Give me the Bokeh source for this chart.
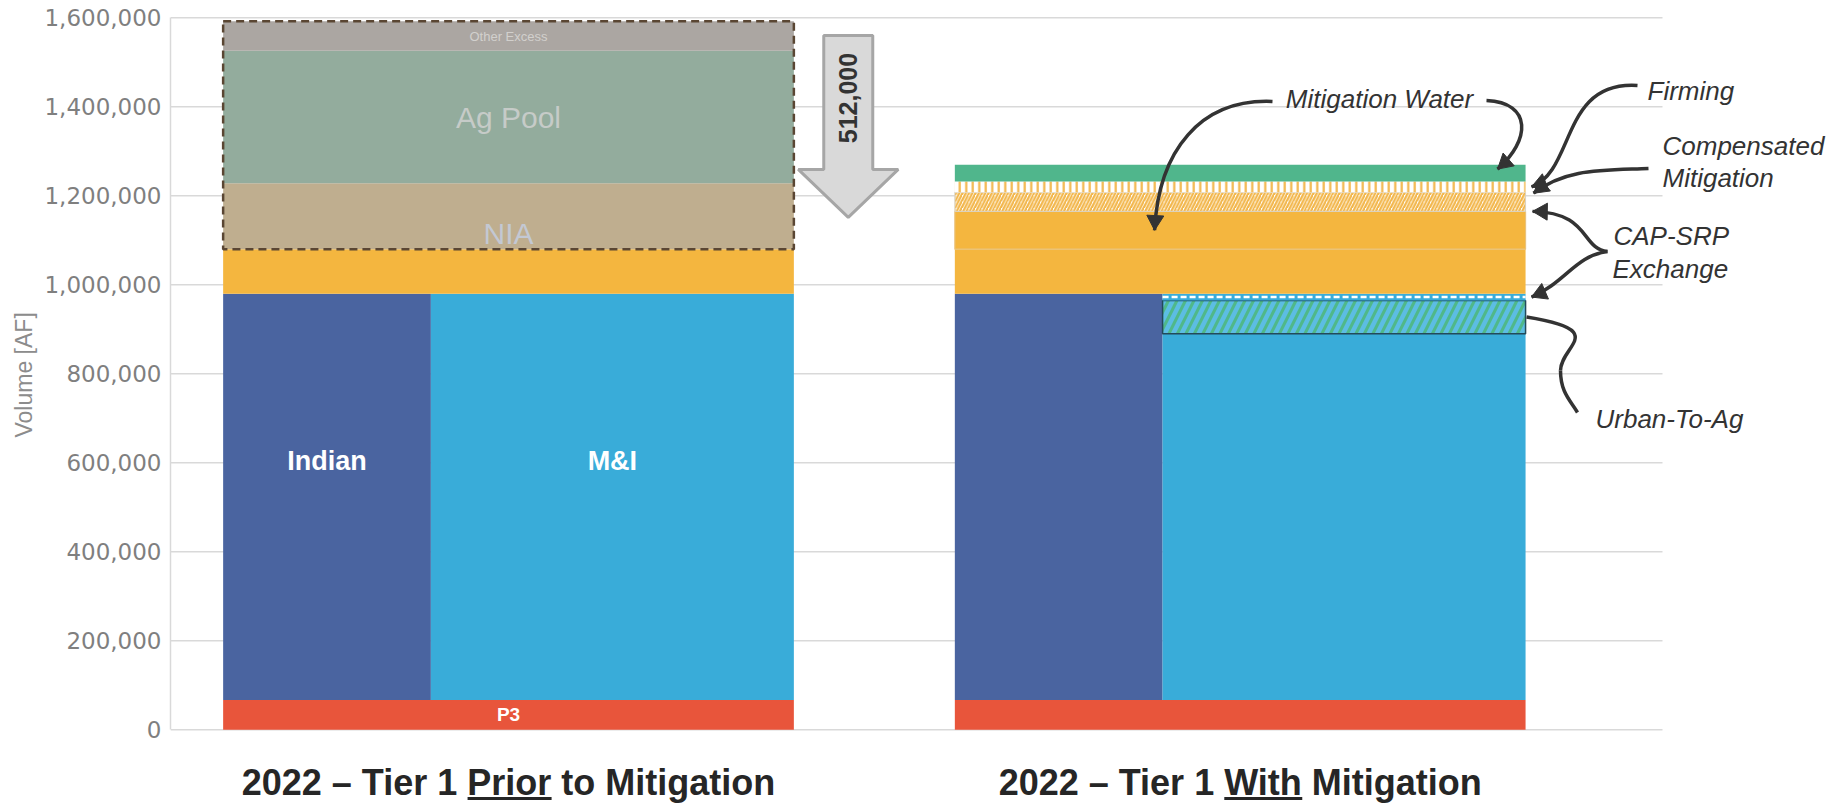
import math
from bokeh.plotting import figure
from bokeh.models import Range1d, FixedTicker, NumeralTickFormatter, ColumnDataSource, Title
from bokeh.core.properties import value
from bokeh.embed import file_html
from bokeh.resources import INLINE

# ---------------- data (acre-feet) ----------------
categories = ["2022 – Tier 1 Prior to Mitigation", "2022 – Tier 1 With Mitigation"]
underlined_words = ["Prior", "With"]

p3 = [67000, 67000]
indian = [913000, 913000]
m_and_i = [913000, 823000]
urban_to_ag = [0, 75000]
cap_srp_exchange_mi = [0, 15000]

base_excess = [100000, 100000]
nia = [148000, 0]
ag_pool = [298000, 0]
other_excess = [66000, 0]
mitigation_water = [0, 85000]
compensated_mitigation = [0, 43000]
firming = [0, 24000]
mitigation_top = [0, 38000]

reduction_label = 512000
y_ticks = [0, 200000, 400000, 600000, 800000, 1000000, 1200000, 1400000, 1600000]

# ---------------- layout helpers ----------------
W, H = 1846, 807
FRAME_LEFT = 170
PX_PER_UNIT = 731.7      # pixels per category slot
PX_PER_AF = 0.000445     # pixels per acre-foot
CENTER0_PX = 508.0       # canvas x of first bar centre
ZERO_PX = 729.3          # canvas y of the zero line
BAR_W = 0.78
SPLIT = 0.364            # share of the bar taken by the Indian column
GRID_END_PX = 1662


def ux(px):
    return (px - CENTER0_PX) / PX_PER_UNIT


def uy(py):
    return (ZERO_PX - py) / PX_PER_AF


def sx(u):
    return CENTER0_PX + u * PX_PER_UNIT


def sy(v):
    return ZERO_PX - v * PX_PER_AF


p = figure(
    width=W, height=H,
    x_range=Range1d(ux(FRAME_LEFT), ux(W)),
    y_range=Range1d(uy(H), uy(0)),
    output_backend="svg", toolbar_location=None,
    x_axis_location=None,
    min_border_left=FRAME_LEFT, min_border_right=0,
    min_border_top=0, min_border_bottom=0,
)
p.outline_line_color = None
p.grid.visible = False
p.background_fill_color = "white"

ax = p.yaxis[0]
ax.ticker = FixedTicker(ticks=y_ticks)
ax.formatter = NumeralTickFormatter(format="0,0")
ax.bounds = (y_ticks[0], y_ticks[-1])
ax.axis_line_color = "#d9d9d9"
ax.axis_line_width = 1.5
ax.major_tick_line_color = None
ax.minor_tick_line_color = None
ax.major_label_text_font = "DejaVu Sans"
ax.major_label_text_font_size = "23px"
ax.major_label_text_color = "#7f7f7f"
ax.major_label_standoff = 3

# axis title at the left edge, lifted to sit beside the tick span
p.add_layout(Title(text="Volume [AF]", align="left", offset=370, standoff=10,
                   text_font="Liberation Sans", text_font_size="23px",
                   text_font_style="normal", text_color="#8c8c8c"), "left")

# horizontal grid lines
p.segment(x0=[ux(FRAME_LEFT)] * len(y_ticks), x1=[ux(GRID_END_PX)] * len(y_ticks),
          y0=y_ticks, y1=y_ticks, line_color="#d9d9d9", line_width=1.5)

n = len(categories)
bar_l = [i - BAR_W / 2 for i in range(n)]
bar_r = [i + BAR_W / 2 for i in range(n)]
bar_m = [bar_l[i] + SPLIT * BAR_W for i in range(n)]


def quad(lefts, rights, bottoms, tops, **kw):
    keep = [k for k in range(len(lefts)) if tops[k] > bottoms[k]]
    src = ColumnDataSource(dict(
        left=[lefts[k] for k in keep], right=[rights[k] for k in keep],
        bottom=[bottoms[k] for k in keep], top=[tops[k] for k in keep]))
    p.quad(left="left", right="right", bottom="bottom", top="top", source=src, **kw)


def add(a, b):
    return [x + y for x, y in zip(a, b)]


zero = [0] * n

# P3 across the whole bar
quad(bar_l, bar_r, zero, p3, fill_color="#e8553b", line_color=None)
# Indian column
ind_top = add(p3, indian)
quad(bar_l, bar_m, p3, ind_top, fill_color="#4a64a0", line_color=None)
# M&I column and the pieces carved out of it
mi_top = add(p3, m_and_i)
quad(bar_m, bar_r, p3, mi_top, fill_color="#39acd9", line_color=None)
urb_top = add(mi_top, urban_to_ag)
quad(bar_m, bar_r, mi_top, urb_top, fill_color="#4fb88a", hatch_pattern="/",
     hatch_color="#5cbde3", hatch_scale=17, hatch_weight=4.5,
     line_color="#234a5a", line_width=1.5)
cap_top = add(urb_top, cap_srp_exchange_mi)
quad(bar_m, bar_r, urb_top, cap_top, fill_color="#39acd9", line_color=None)
for i in range(n):
    if cap_srp_exchange_mi[i] > 0:
        mid = (urb_top[i] + cap_top[i]) / 2
        p.segment(x0=[bar_m[i]], x1=[bar_r[i]], y0=[mid], y1=[mid],
                  line_color="white", line_width=2.5, line_dash="6 3")

# full-width layers above the columns
layers = [
    (base_excess, dict(fill_color="#f4b63f", line_color=None)),
    (nia, dict(fill_color="#bfae8f", line_color=None)),
    (ag_pool, dict(fill_color="#93ac9d", line_color=None)),
    (other_excess, dict(fill_color="#aba6a2", line_color=None)),
    (mitigation_water, dict(fill_color="#f4b63f", line_color="#e9c27c", line_width=1.2)),
    (compensated_mitigation, dict(fill_color="white", hatch_pattern="/", hatch_color="#f2b64a",
                                  hatch_scale=6.5, hatch_weight=2.2, line_color="#d8d2c4", line_width=1)),
    (firming, dict(fill_color="white", hatch_pattern="|", hatch_color="#f2b64a",
                   hatch_scale=6.5, hatch_weight=2.2, line_color=None)),
    (mitigation_top, dict(fill_color="#50b68c", line_color=None)),
]
bottoms = ind_top[:]
band = {}
for vals, style in layers:
    tops = add(bottoms, vals)
    quad(bar_l, bar_r, bottoms, tops, **style)
    band[id(vals)] = (bottoms[:], tops[:])
    bottoms = tops

# dashed outline around the volume that is cut
cut_bottom = [band[id(nia)][0][0]]
cut_top = [band[id(other_excess)][1][0]]
p.quad(left=[bar_l[0]], right=[bar_r[0]], bottom=cut_bottom, top=cut_top,
       fill_alpha=0, line_color="#5a4633", line_width=2.5, line_dash="8 5")

FONT = value("Liberation Sans")


def text(x, y, s, size, color, style="normal", align="center", baseline="middle", angle=0.0):
    p.text(x=[x], y=[y], text=[s], text_font=FONT, text_font_size=f"{size}px",
           text_font_style=style, text_color=color, text_align=align,
           text_baseline=baseline, angle=angle)


# labels inside the first bar
nb, nt = band[id(nia)][0][0], band[id(nia)][1][0]
ab, at = band[id(ag_pool)][0][0], band[id(ag_pool)][1][0]
ob, ot = band[id(other_excess)][0][0], band[id(other_excess)][1][0]
text(0, (ob + ot) / 2, "Other Excess", 13, "#d2d0cd")
text(0, (ab + at) / 2, "Ag Pool", 30, "#c6cbc8")
text(0, nb + 35000, "NIA", 30, "#c3c8d3")
text((bar_l[0] + bar_m[0]) / 2, 605000, "Indian", 27, "white", style="bold")
text((bar_m[0] + bar_r[0]) / 2, 605000, "M&I", 27, "white", style="bold")
text(0, p3[0] / 2, "P3", 19, "white", style="bold")

# block arrow showing the reduction
box_top = cut_top[0]
shaft_x = bar_r[0] + 54.4 / PX_PER_UNIT
shaft_hw = 24.5 / PX_PER_UNIT
head_hw = 50 / PX_PER_UNIT
a_top = box_top - 0.0625 * reduction_label
a_neck = box_top - 0.65 * reduction_label
a_tip = box_top - 0.86 * reduction_label
p.patch(x=[shaft_x - shaft_hw, shaft_x + shaft_hw, shaft_x + shaft_hw, shaft_x + head_hw,
           shaft_x, shaft_x - head_hw, shaft_x - shaft_hw],
        y=[a_top, a_top, a_neck, a_neck, a_tip, a_neck, a_neck],
        fill_color="#d9d9d9", line_color="#a6a6a6", line_width=3)
text(shaft_x, (a_top + a_neck) / 2 + 10000, f"{reduction_label:,}", 25, "#333333",
     style="bold", angle=math.pi / 2)

# leader lines for the second bar
INK = "#333333"
edge_px = sx(bar_r[1])


def leader(segs, head=True):
    for (p0, c1, c2, p1) in segs:
        p.bezier(x0=[ux(p0[0])], y0=[uy(p0[1])], x1=[ux(p1[0])], y1=[uy(p1[1])],
                 cx0=[ux(c1[0])], cy0=[uy(c1[1])], cx1=[ux(c2[0])], cy1=[uy(c2[1])],
                 line_color=INK, line_width=3.5)
    if head:
        _, _, c2, p1 = segs[-1]
        ang = math.atan2(-(p1[1] - c2[1]), p1[0] - c2[0])
        size = 17
        back = 0.577 * size
        cxp = p1[0] - back * math.cos(ang)
        cyp = p1[1] + back * math.sin(ang)
        p.scatter(x=[ux(cxp)], y=[uy(cyp)], marker="triangle", size=size,
                  angle=ang - math.pi / 2, fill_color=INK, line_color=INK)


def mid_px(key):
    b, t = band[id(key)][0][1], band[id(key)][1][1]
    return sy((b + t) / 2)


tip_x = edge_px + 6
mw_tip = (sx(bar_l[1] + 0.35 * BAR_W), mid_px(mitigation_water))
leader([((1272, 101), (1200, 98), (1158, 150), mw_tip)])
top_tip = (edge_px - 28, mid_px(mitigation_top) - 4)
leader([((1486, 100), (1532, 102), (1530, 140), top_tip)])
leader([((1637, 85), (1560, 80), (1575, 170), (tip_x, mid_px(firming)))])
leader([((1648, 168), (1600, 170), (1565, 168), (tip_x + 2, sy(band[id(compensated_mitigation)][1][1]) + 1))])
leader([((1607, 251), (1580, 248), (1590, 212), (tip_x + 1, sy(band[id(mitigation_water)][1][1])))])
cap_mid = sy((urb_top[1] + cap_top[1]) / 2)
leader([((1607, 251), (1575, 255), (1565, 282), (tip_x, cap_mid))])
urb_mid = sy((mi_top[1] + urb_top[1]) / 2)
leader([((edge_px + 1, urb_mid), (1610, 330), (1560, 345), (1560, 370)),
        ((1560, 370), (1560, 392), (1570, 400), (1577, 412))], head=False)

ANN = "#333333"
text(ux(1379), uy(98), "Mitigation Water", 26, ANN, style="italic")
text(ux(1647), uy(90), "Firming", 26, ANN, style="italic", align="left")
text(ux(1662), uy(145), "Compensated", 26, ANN, style="italic", align="left")
text(ux(1662), uy(177), "Mitigation", 26, ANN, style="italic", align="left")
text(ux(1613), uy(235), "CAP-SRP", 26, ANN, style="italic", align="left")
text(ux(1612), uy(268), "Exchange", 26, ANN, style="italic", align="left")
text(ux(1595), uy(418), "Urban-To-Ag", 26, ANN, style="italic", align="left")

# category titles with an underlined key word
BOLD_W = {" ": 278, "–": 556, "T": 611, "i": 278, "e": 556, "r": 389, "P": 667, "o": 611,
          "t": 333, "M": 833, "g": 611, "a": 556, "n": 611, "W": 944, "h": 611}
for d in "0123456789":
    BOLD_W[d] = 556
CAT_SIZE = 36
mid_px_title = 782


def width_px(s):
    return sum(BOLD_W.get(ch, 556) for ch in s) / 1000 * CAT_SIZE


for i, (cat, word) in enumerate(zip(categories, underlined_words)):
    text(i, uy(mid_px_title), cat, CAT_SIZE, "#262626", style="bold")
    total = width_px(cat)
    start = sx(i) - total / 2
    k = cat.index(word)
    u0 = start + width_px(cat[:k])
    u1 = u0 + width_px(word)
    uline = uy(mid_px_title + 16)
    p.segment(x0=[ux(u0)], x1=[ux(u1)], y0=[uline], y1=[uline],
              line_color="#262626", line_width=3)

open("out.html", "w").write(file_html(p, INLINE))
